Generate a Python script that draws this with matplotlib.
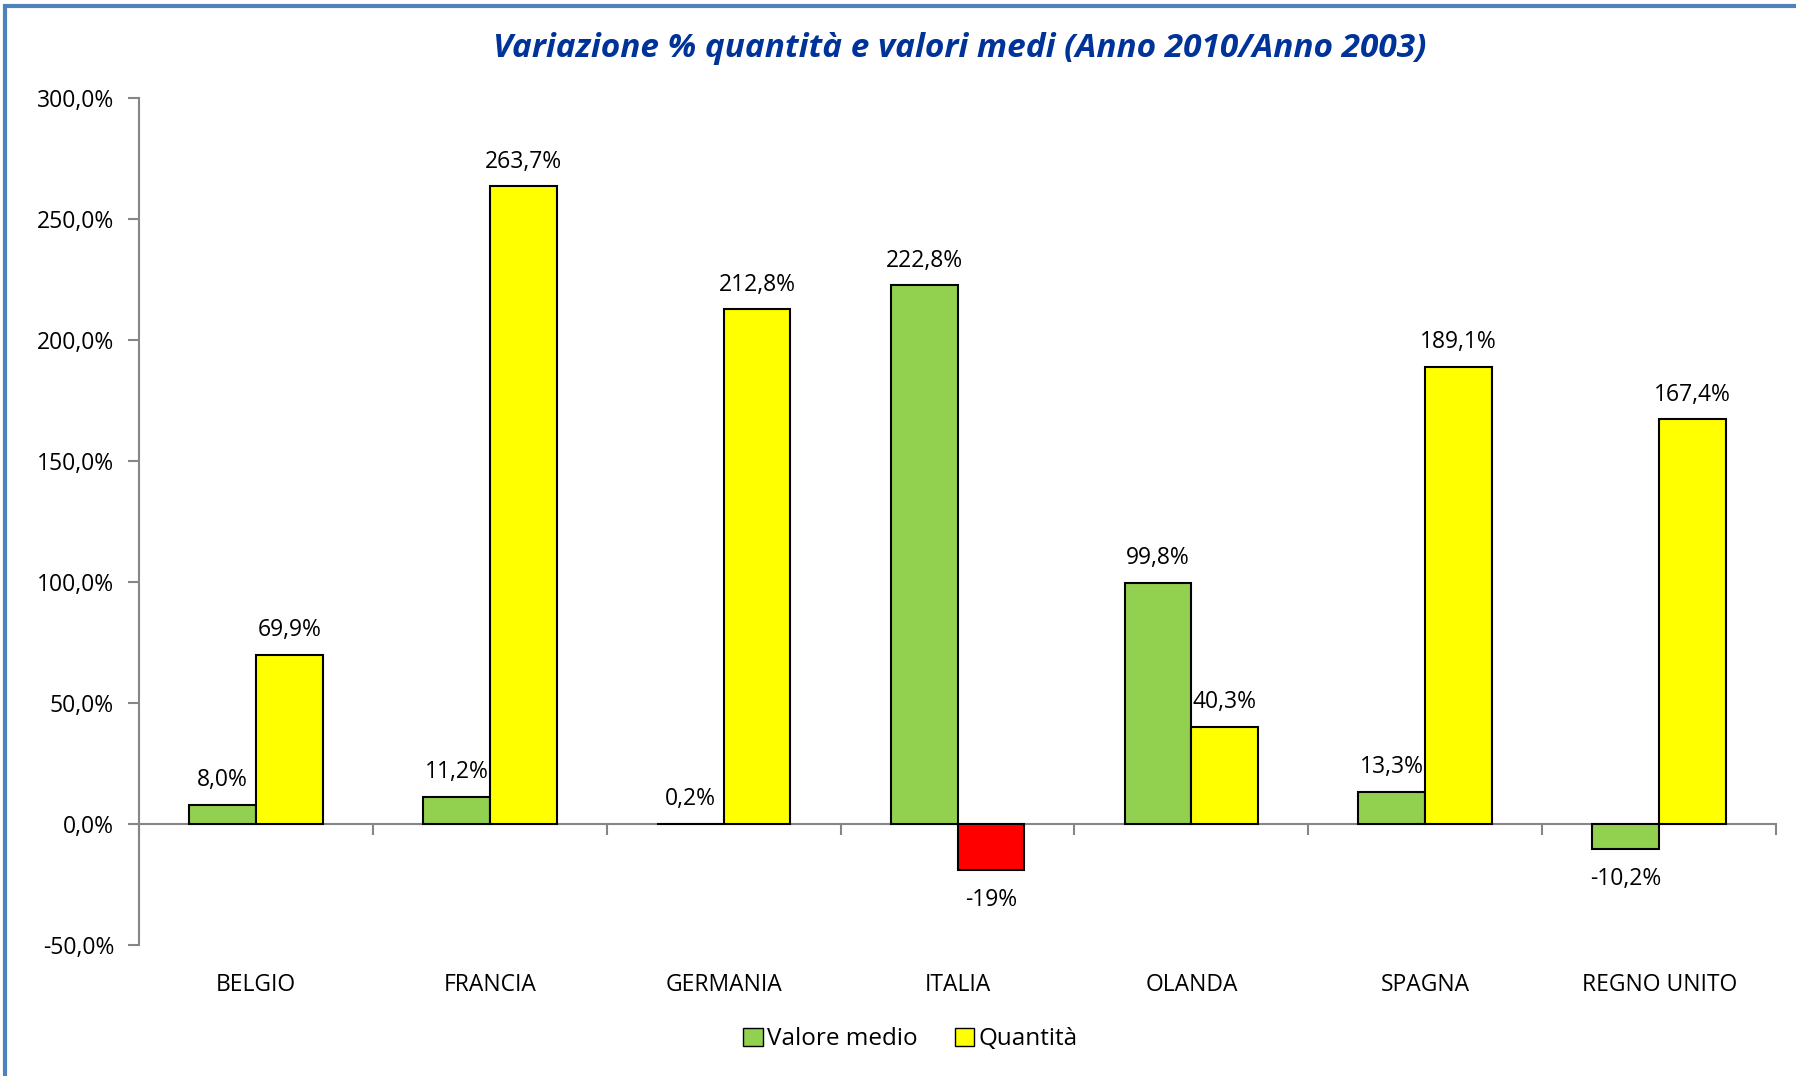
import numpy as np
import matplotlib.pyplot as plt
from matplotlib.patches import Rectangle, Patch
from matplotlib.ticker import FuncFormatter

# data
paesi = ['BELGIO', 'FRANCIA', 'GERMANIA', 'ITALIA', 'OLANDA', 'SPAGNA', 'REGNO UNITO']
valore_medio = [8.0, 11.2, 0.2, 222.8, 99.8, 13.3, -10.2]
quantita = [69.9, 263.7, 212.8, -19.0, 40.3, 189.1, 167.4]
lbl_valore = ['8,0%', '11,2%', '0,2%', '222,8%', '99,8%', '13,3%', '-10,2%']
lbl_quantita = ['69,9%', '263,7%', '212,8%', '-19%', '40,3%', '189,1%', '167,4%']

plt.rcParams['font.family'] = ['Open Sans', 'DejaVu Sans']

fig = plt.figure(figsize=(17.96, 10.76), dpi=100)
ax = fig.add_axes([0.0774, 0.1218, 0.9115, 0.7867])

x = np.arange(len(paesi))
w = 1 / 3.5
green = '#92D050'
yellow = '#FFFF00'
col_q = [yellow if v >= 0 else '#FF0000' for v in quantita]

b1 = ax.bar(x - w / 2, valore_medio, w, color=green, edgecolor='black', linewidth=1.5, zorder=3)
b2 = ax.bar(x + w / 2, quantita, w, color=col_q, edgecolor='black', linewidth=1.5, zorder=3)

for bars, labels in [(b1, lbl_valore), (b2, lbl_quantita)]:
    for b, t in zip(bars, labels):
        h = b.get_height()
        off = 9 if h >= 0 else -13
        ax.annotate(t, (b.get_x() + b.get_width() / 2, h), xytext=(0, off),
                    textcoords='offset points', ha='center',
                    va='bottom' if h >= 0 else 'top', fontsize=16.5)

ax.set_xlim(-0.5, len(paesi) - 0.5)
ax.set_ylim(-50, 300)
ax.set_yticks(np.arange(-50, 301, 50))
ax.yaxis.set_major_formatter(FuncFormatter(lambda v, p: f'{v:.1f}%'.replace('.', ',')))
ax.tick_params(axis='y', labelsize=16.5, length=8, width=1.5, color='#868686', pad=10)

for s in ['top', 'right']:
    ax.spines[s].set_visible(False)
ax.spines['left'].set_color('#868686')
ax.spines['left'].set_linewidth(1.5)
ax.spines['bottom'].set_position(('data', 0))
ax.spines['bottom'].set_color('#868686')
ax.spines['bottom'].set_linewidth(1.5)
ax.set_xticks(np.arange(-0.5, len(paesi), 1))
ax.set_xticklabels([])
ax.tick_params(axis='x', length=8, width=1.5, color='#868686')

for i, p in enumerate(paesi):
    ax.text(i, -0.047, p, transform=ax.get_xaxis_transform(), ha='center', va='center', fontsize=16.5)

fig.text(0.5345, 0.955, 'Variazione % quantità e valori medi (Anno 2010/Anno 2003)',
         ha='center', va='center', fontsize=24, fontweight='bold', fontstyle='italic',
         color='#003399')

handles = [Patch(facecolor=green, edgecolor='black', label='Valore medio'),
           Patch(facecolor=yellow, edgecolor='black', label='Quantità')]
fig.legend(handles=handles, loc='center', bbox_to_anchor=(0.507, 0.034), ncol=2,
           frameon=False, fontsize=17.5, handlelength=0.8, handleheight=0.8,
           handletextpad=0.2, columnspacing=1.5)

# outer frame (right and bottom cut off in the original)
fig.patches.append(Rectangle((0.003, -0.05), 1.1, 1.044, transform=fig.transFigure,
                             fill=False, edgecolor='#4F81BD', linewidth=3))

plt.savefig('out.png', dpi=100)
